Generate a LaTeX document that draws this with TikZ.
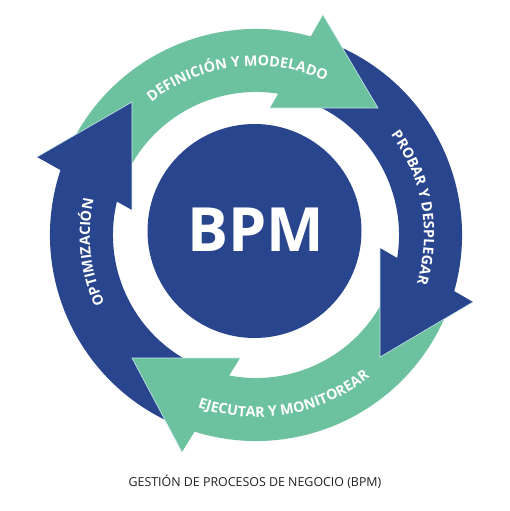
\documentclass[tikz,border=0pt]{standalone}
\usepackage{fontspec}
\setmainfont{Open Sans}
\usetikzlibrary{decorations.text}
\definecolor{bgreen}{RGB}{108,194,158}
\definecolor{bblue}{RGB}{40,69,142}
\definecolor{edgec}{RGB}{200,232,236}
\definecolor{captxt}{RGB}{34,34,34}
\begin{document}
\begin{tikzpicture}[x=1pt,y=1pt,
  greenpart/.style={fill=bgreen},
  bluepart/.style={fill=bblue},
  headedge/.style={draw=edgec,line width=0.6pt,line join=miter},
  arclabel/.style={decorate,decoration={text along path,text align=center,
     text={|\bfseries\fontsize{14.3}{17}\selectfont\color{white}|#1}}}
]
\useasboundingbox (-256,-276) rectangle (254,235);
\fill[white] (-256,-276) rectangle (254,235);
% bodies
\fill[greenpart] (160:143) arc[start angle=160,end angle=70,radius=143] -- (70:206) arc[start angle=70,end angle=160,radius=206] -- cycle;
\fill[bluepart] (70:143) arc[start angle=70,end angle=-20,radius=143] -- (-20:206) arc[start angle=-20,end angle=70,radius=206] -- cycle;
\fill[greenpart] (-20:143) arc[start angle=-20,end angle=-110,radius=143] -- (-110:206) arc[start angle=-110,end angle=-20,radius=206] -- cycle;
\fill[bluepart] (-110:143) arc[start angle=-110,end angle=-200,radius=143] -- (-200:206) arc[start angle=-200,end angle=-110,radius=206] -- cycle;
% heads
\fill[greenpart] (14,127) -- (122,127) -- (67,220) -- cycle;
\draw[headedge] (67,220) -- (122,127) -- (14,127);
\fill[bluepart] (124,-13) -- (124,-122) -- (217,-67) -- cycle;
\draw[headedge] (217,-67) -- (124,-122) -- (124,-13);
\fill[greenpart] (-16,-123) -- (-124,-123) -- (-74,-217) -- cycle;
\draw[headedge] (-74,-217) -- (-124,-123) -- (-16,-123);
\fill[bluepart] (-124,25) -- (-124,133) -- (-219,78) -- cycle;
\draw[headedge] (-219,78) -- (-124,133) -- (-124,25);
% labels along arcs
\path[arclabel={DEFINICIÓN Y MODELADO}] (167:169) arc[start angle=167,end angle=27,radius=169];
\path[arclabel={PROBAR Y DESPLEGAR}] (80:168) arc[start angle=80,end angle=-60,radius=168];
\path[arclabel={EJECUTAR Y MONITOREAR}] (-150:182) arc[start angle=-150,end angle=-10,radius=182];
\path[arclabel={OPTIMIZACIÓN}] (256:166) arc[start angle=256,end angle=116,radius=166];
% center
\fill[bblue] (-1.5,4) circle[radius=107];
\node[text=white,font=\bfseries\fontsize{61}{61}\selectfont] (bpm) at (-0.5,5) {BPM};
\node[text=captxt,font=\fontsize{12.4}{15}\selectfont] (caption) at (-1,-247) {GESTIÓN DE PROCESOS DE NEGOCIO (BPM)};
\end{tikzpicture}
\end{document}
